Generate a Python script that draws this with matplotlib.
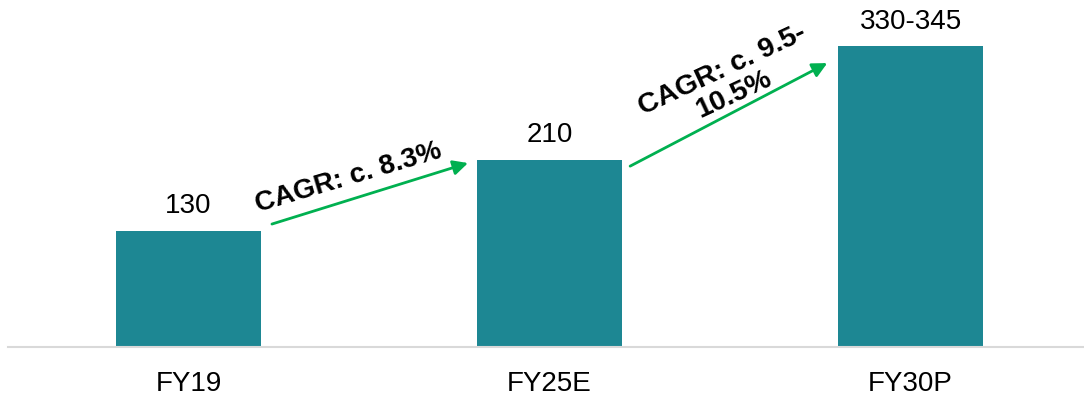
import matplotlib.pyplot as plt

plt.rcParams['font.family'] = ['Liberation Sans', 'DejaVu Sans']

# Data
years = ['FY19', 'FY25E', 'FY30P']
values = [130, 210, 337.5]
value_labels = ['130', '210', '330-345']
cagr_labels = ['CAGR: c. 8.3%', 'CAGR: c. 9.5-\n10.5%']

bar_color = '#1d8793'
arrow_color = '#00b050'

fig = plt.figure(figsize=(10.84, 4.01), dpi=100)
ax = fig.add_axes([8 / 1084, 54 / 401, 1 - 8 / 1084, 347 / 401])

x = list(range(len(years)))
ax.bar(x, values, width=0.40, color=bar_color, zorder=2)

ax.set_xlim(-0.5, 2.48)
ax.set_ylim(0, 389.5)

# value labels above bars
for xi, v, lab in zip(x, values, value_labels):
    ax.annotate(lab, (xi, v), xytext=(0, 8.5), textcoords='offset points',
                ha='center', va='bottom', fontsize=20, color='#000000')

# axes styling
for s in ['top', 'right', 'left']:
    ax.spines[s].set_visible(False)
ax.spines['bottom'].set_color('#d9d9d9')
ax.spines['bottom'].set_linewidth(1.5)
ax.set_yticks([])
ax.set_xticks(x)
ax.set_xticklabels(years, fontsize=20)
ax.tick_params(axis='x', length=0, pad=17)

# CAGR arrows
arrows = [((0.231, 138), (0.774, 206.5)), ((1.223, 203), (1.769, 318.7))]
for (start, end) in arrows:
    ax.annotate('', xy=end, xytext=start,
                arrowprops=dict(arrowstyle='-|>', color=arrow_color, lw=2,
                                mutation_scale=22, shrinkA=0, shrinkB=0))

ax.text(0.442, 189.7, cagr_labels[0], fontsize=20, fontweight='bold',
        rotation=16.5, rotation_mode='anchor', ha='center', va='center')
ax.text(1.495, 297, cagr_labels[1], fontsize=20.5, fontweight='bold',
        rotation=25, rotation_mode='anchor', ha='center', va='center',
        multialignment='center', linespacing=1.0)

fig.savefig('out.png', dpi=100)
